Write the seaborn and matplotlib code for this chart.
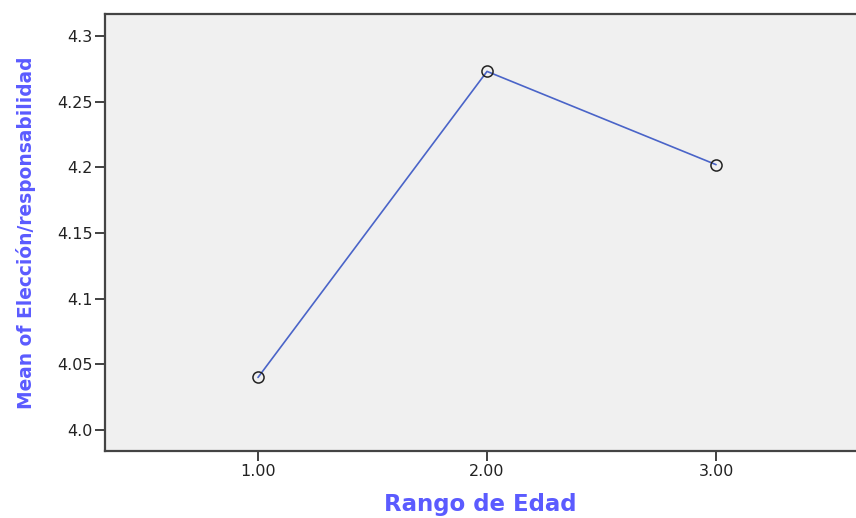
import matplotlib
matplotlib.use("Agg")
import matplotlib.pyplot as plt
import seaborn as sns
import pandas as pd

# Data
rango_edad = [1.0, 2.0, 3.0]
media = [4.040, 4.273, 4.202]
x_ticks = [1.0, 2.0, 3.0]
x_tick_labels = ["1.00", "2.00", "3.00"]
y_ticks = [4.0, 4.05, 4.1, 4.15, 4.2, 4.25, 4.3]
y_tick_labels = ["4.0", "4.05", "4.1", "4.15", "4.2", "4.25", "4.3"]

df = pd.DataFrame({"Rango de Edad": rango_edad, "Mean": media})

sns.set_style("white")
plt.rcParams['font.family'] = ['DejaVu Sans']

fig = plt.figure(figsize=(8.56, 5.18), dpi=100)
ax = fig.add_axes([105/856, 67/518, 1 - 105/856, (451 - 14)/518])
ax.set_facecolor("#f0f0f0")

sns.lineplot(data=df, x="Rango de Edad", y="Mean", ax=ax, color="#4a64c8",
             linewidth=1.2, marker="o", markersize=8, markerfacecolor="none",
             markeredgecolor="#222222", markeredgewidth=1.1)

ax.set_xlim(0.332, 3.611)
ax.set_ylim(3.984, 4.3167)
ax.set_xticks(x_ticks)
ax.set_xticklabels(x_tick_labels)
ax.set_yticks(y_ticks)
ax.set_yticklabels(y_tick_labels)

ax.tick_params(axis="both", direction="out", length=7, width=1.3, color="#333333",
               labelsize=11.5, labelcolor="#222222", pad=2, left=True, bottom=True)

for s in ["left", "bottom", "top"]:
    ax.spines[s].set_visible(True)
    ax.spines[s].set_color("#444444")
    ax.spines[s].set_linewidth(1.6)
ax.spines["right"].set_visible(False)

ax.set_xlabel("Rango de Edad", fontsize=16.5, fontweight="bold", color="#5b5bff", labelpad=10.5)
ax.set_ylabel("Mean of Elección/responsabilidad", fontsize=13.4, fontweight="bold",
              color="#5b5bff", labelpad=15)

fig.savefig("out.png", dpi=100)
